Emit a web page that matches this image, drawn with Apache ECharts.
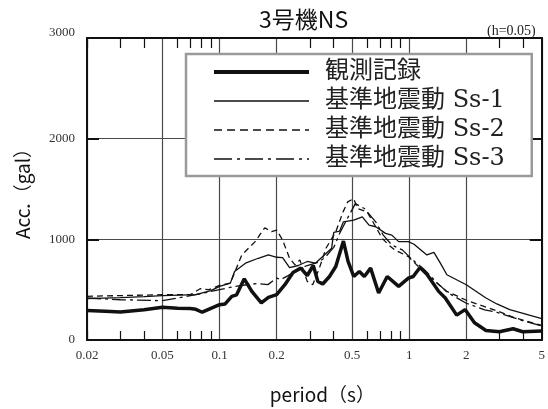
<!DOCTYPE html>
<html>
<head>
<meta charset="utf-8">
<script src="https://cdn.jsdelivr.net/npm/echarts@6/dist/echarts.min.js"></script>
<style>
  html, body { margin: 0; padding: 0; background: #fff; }
  #chart { width: 548px; height: 409px; }
</style>
</head>
<body>
<div id="chart"></div>
<script>
// Period axis (s): labelled values, full-height grid lines, short minor ticks
const periodLabels = [0.02, 0.05, 0.1, 0.2, 0.5, 1, 2, 5];
const periodMinor = [0.02, 0.03, 0.04, 0.06, 0.07, 0.08, 0.09, 0.3, 0.4, 0.6, 0.7, 0.8, 0.9, 3, 4];
const accTicks = [0, 1000, 2000, 3000];

const seriesNames = ['観測記録', '基準地震動 Ss-1', '基準地震動 Ss-2', '基準地震動 Ss-3'];

// [period (s), acceleration (gal)], h = 0.05
const observed = [
  [0.02, 292], [0.025, 285], [0.03, 279], [0.04, 300], [0.05, 326], [0.06, 315], [0.07, 312],
  [0.075, 305], [0.081, 276], [0.09, 315], [0.1, 351], [0.107, 358], [0.116, 434], [0.123, 449],
  [0.135, 608], [0.148, 483], [0.166, 368], [0.181, 424], [0.2, 450], [0.221, 549], [0.244, 671],
  [0.268, 714], [0.29, 641], [0.312, 740], [0.33, 582], [0.35, 556], [0.38, 631], [0.41, 730],
  [0.45, 983], [0.476, 780], [0.51, 631], [0.546, 681], [0.58, 631], [0.626, 714], [0.69, 467],
  [0.766, 631], [0.88, 533], [0.99, 615], [1.05, 631], [1.14, 720], [1.24, 654], [1.43, 483],
  [1.55, 417], [1.78, 247], [1.97, 302], [2.21, 171], [2.54, 95], [2.99, 82], [3.53, 112],
  [3.97, 82], [5, 89]
];
const ss1 = [
  [0.02, 411], [0.03, 420], [0.04, 430], [0.05, 440], [0.075, 450], [0.09, 490], [0.1, 533],
  [0.114, 565], [0.12, 681], [0.137, 763], [0.16, 812], [0.181, 845], [0.2, 822], [0.215, 819],
  [0.234, 720], [0.26, 740], [0.29, 780], [0.32, 763], [0.35, 829], [0.39, 911], [0.40, 1069],
  [0.43, 1082], [0.45, 1174], [0.51, 1190], [0.566, 1224], [0.614, 1141], [0.666, 1125],
  [0.75, 1059], [0.81, 1042], [0.88, 977], [0.99, 977], [1.06, 951], [1.24, 845], [1.35, 871],
  [1.46, 763], [1.58, 648], [2.0, 549], [2.54, 417], [2.9, 358], [3.39, 302], [5, 213]
];
const ss2 = [
  [0.02, 434], [0.05, 450], [0.07, 450], [0.079, 509], [0.088, 500], [0.1, 543], [0.114, 565],
  [0.131, 845], [0.154, 977], [0.173, 1115], [0.188, 1076], [0.2, 1092], [0.215, 993],
  [0.234, 812], [0.25, 746], [0.265, 796], [0.29, 582], [0.31, 549], [0.336, 714], [0.364, 911],
  [0.41, 1075], [0.448, 1273], [0.474, 1372], [0.51, 1404], [0.534, 1306], [0.6, 1273],
  [0.666, 1125], [0.72, 1010], [0.78, 944], [0.84, 895], [0.99, 829], [1.05, 780], [1.24, 648],
  [1.58, 483], [2.0, 395], [2.9, 290], [3.6, 220], [5, 145]
];
const ss3 = [
  [0.02, 417], [0.03, 400], [0.05, 391], [0.075, 450], [0.1, 500], [0.121, 533], [0.139, 549],
  [0.157, 560], [0.18, 550], [0.2, 615], [0.21, 600], [0.23, 640], [0.26, 700], [0.29, 740],
  [0.33, 770], [0.36, 820], [0.4, 920], [0.43, 1060], [0.47, 1200], [0.52, 1355], [0.58, 1306],
  [0.666, 1174], [0.73, 1042], [0.81, 944], [0.92, 895], [1.02, 812], [1.2, 700], [1.4, 570],
  [1.6, 470], [2.0, 365], [2.5, 300], [2.9, 275], [4.0, 190], [5, 140]
];

const serif = '"Liberation Serif", "DejaVu Serif", serif';
const legendFont = '"DejaVu Serif", "Noto Sans CJK JP", serif';
const sans = '"Noto Sans CJK JP", "Noto Sans", sans-serif';
const ink = '#111';
const gridColor = '#4a4a4a';

const chart = echarts.init(document.getElementById('chart'), null, { renderer: 'canvas' });

const fmtPeriod = v => String(+(+v).toPrecision(3));

const option = {
  animation: false,
  backgroundColor: '#fff',
  title: [
    {
      text: '3号機NS', left: 254, top: 3,
      textStyle: { fontFamily: sans, fontSize: 23, fontWeight: 'normal', color: ink }
    },
    {
      text: '(h=0.05)', left: 482, top: 19,
      textStyle: { fontFamily: serif, fontSize: 14, fontWeight: 'normal', color: '#222' }
    }
  ],
  grid: { left: 87, right: 2, top: 38, bottom: 67, containLabel: false },
  legend: {
    orient: 'vertical', left: 186, top: 54,
    padding: [4, 27, 3, 26],
    backgroundColor: '#fff', borderColor: '#9a9a9a', borderWidth: 2.5, borderRadius: 0,
    itemWidth: 95, itemHeight: 14, itemGap: 1,
    itemStyle: { opacity: 0 },
    textStyle: { fontFamily: legendFont, fontSize: 24, lineHeight: 28, color: '#222', padding: [0, 0, 0, 11] },
    data: [
      { name: seriesNames[0], lineStyle: { width: 4, color: ink, type: 'solid' } },
      { name: seriesNames[1], lineStyle: { width: 1.4, color: ink, type: 'solid' } },
      { name: seriesNames[2], lineStyle: { width: 1.4, color: ink, type: [8, 5] } },
      { name: seriesNames[3], lineStyle: { width: 1.4, color: ink, type: [18, 5, 3, 5] } }
    ]
  },
  xAxis: [
    {
      type: 'log', logBase: 10, min: 0.02, max: 5, position: 'bottom', gridIndex: 0,
      name: 'period（s）', nameLocation: 'middle', nameGap: 45,
      nameTextStyle: { fontFamily: sans, fontSize: 19, color: ink, padding: [0, 0, 0, 16] },
      axisLine: { show: true, onZero: false, lineStyle: { color: ink, width: 2 } },
      axisTick: { show: false, customValues: periodLabels },
      axisLabel: {
        customValues: periodLabels, formatter: fmtPeriod, margin: 9,
        fontFamily: serif, fontSize: 13, color: '#333'
      },
      splitLine: { show: true, lineStyle: { color: gridColor, width: 1.2 } }
    },
    {
      type: 'log', logBase: 10, min: 0.02, max: 5, position: 'bottom', gridIndex: 0,
      axisLine: { show: false, onZero: false },
      axisTick: { show: true, inside: true, length: 9, customValues: periodMinor, lineStyle: { color: ink, width: 1.2 } },
      axisLabel: { show: false },
      splitLine: { show: false }
    },
    {
      type: 'log', logBase: 10, min: 0.02, max: 5, position: 'top', gridIndex: 0,
      axisLine: { show: true, onZero: false, lineStyle: { color: ink, width: 2 } },
      axisTick: { show: true, inside: true, length: 10, customValues: periodMinor, lineStyle: { color: ink, width: 1.2 } },
      axisLabel: { show: false },
      splitLine: { show: false }
    }
  ],
  yAxis: [
    {
      type: 'value', min: accTicks[0], max: accTicks[accTicks.length - 1], interval: 1000, position: 'left',
      name: 'Acc.（gal）', nameLocation: 'middle', nameGap: 55, nameRotate: 90,
      nameTextStyle: { fontFamily: sans, fontSize: 19, color: ink },
      axisLine: { show: true, onZero: false, lineStyle: { color: ink, width: 2 } },
      axisTick: { show: true, inside: true, length: 12, lineStyle: { color: ink, width: 2 } },
      axisLabel: {
        margin: 12, fontFamily: serif, fontSize: 13, color: '#333',
        formatter: v => (v === 3000 ? '{top|3000}' : String(v)),
        rich: { top: { fontFamily: serif, fontSize: 13, color: '#333', padding: [0, 0, 10, 0] } }
      },
      splitLine: { show: true, lineStyle: { color: gridColor, width: 1.2 } }
    },
    {
      type: 'value', min: accTicks[0], max: accTicks[accTicks.length - 1], interval: 1000, position: 'right',
      axisLine: { show: true, onZero: false, lineStyle: { color: ink, width: 2 } },
      axisTick: { show: true, inside: true, length: 12, lineStyle: { color: ink, width: 2 } },
      axisLabel: { show: false },
      splitLine: { show: false }
    }
  ],
  series: [
    {
      name: seriesNames[0], type: 'line', data: observed, xAxisIndex: 0, yAxisIndex: 0,
      symbol: 'none', z: 5, itemStyle: { color: ink },
      lineStyle: { color: ink, width: 3.5, type: 'solid' }
    },
    {
      name: seriesNames[1], type: 'line', data: ss1, xAxisIndex: 0, yAxisIndex: 0,
      symbol: 'none', z: 4, itemStyle: { color: ink },
      lineStyle: { color: ink, width: 1.3, type: 'solid' }
    },
    {
      name: seriesNames[2], type: 'line', data: ss2, xAxisIndex: 0, yAxisIndex: 0,
      symbol: 'none', z: 4, itemStyle: { color: ink },
      lineStyle: { color: ink, width: 1.3, type: [6, 4] }
    },
    {
      name: seriesNames[3], type: 'line', data: ss3, xAxisIndex: 0, yAxisIndex: 0,
      symbol: 'none', z: 4, itemStyle: { color: ink },
      lineStyle: { color: ink, width: 1.3, type: [14, 4, 3, 4] }
    }
  ]
};

chart.setOption(option);
</script>
</body>
</html>
